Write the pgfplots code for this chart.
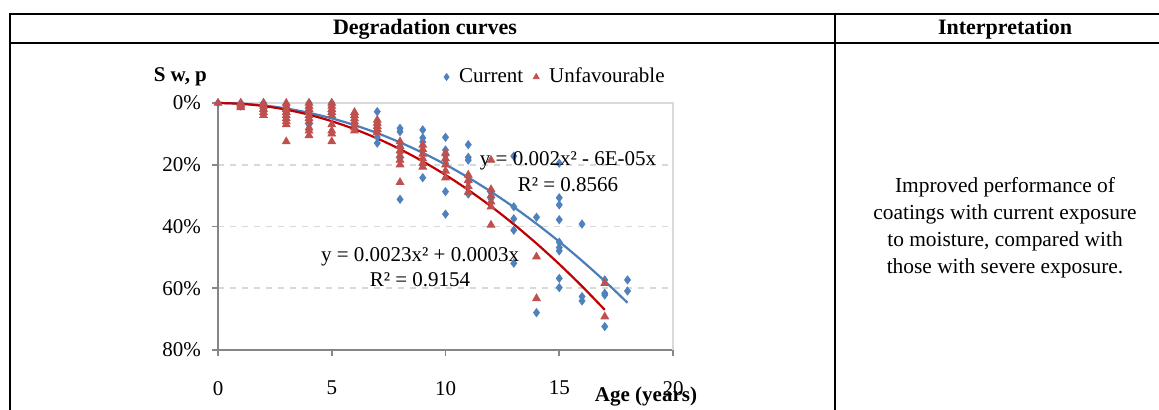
\documentclass[border=0pt]{standalone}
\usepackage{pgfplots}
\pgfplotsset{compat=1.18}
\usepackage{fontspec}
\setmainfont{Liberation Serif}
\definecolor{cblue}{HTML}{4F81BD}
\definecolor{cred}{HTML}{C0504D}
\definecolor{tblue}{HTML}{4A7EBB}
\definecolor{tred}{HTML}{C00000}
\definecolor{axgray}{HTML}{868686}
\definecolor{lgray}{HTML}{D9D9D9}

\pgfplotstableread{
x y
0 0
1 0
1 1
2 0
2 1
2 2
3 1
3 3
4 0
4 2
4 7
5 0
5 1
5 3
6 4
6 7
7 2.8
7 7
7 9
7 11
7 13
8 8.2
8 9.3
8 14
8 16
8 18
8 31.2
9 8.7
9 11.3
9 12.6
9 24.2
10 11.1
10 15.2
10 17
10 18.5
10 19.5
10 28.7
10 36
11 13.5
11 17.6
11 18.5
11 24
11 25.5
11 29.5
12 29
12 31
13 17.2
13 33.6
13 37.5
13 41.2
13 51.9
14 37
14 67.9
15 19.5
15 30.7
15 33
15 37.8
15 45.1
15 46.8
15 47.9
15 56.8
15 59.8
16 39.2
16 62.7
16 64.1
17 57.3
17 61.6
17 62.2
17 72.4
18 57.3
18 60.9
}\current

\pgfplotstableread{
x y
0 0
1 0
1 0.5
1 1
1 1.5
2 0
2 1
2 2
2 3
2 4
3 0
3 1
3 2
3 3
3 4
3 5
3 6
3 7
3 12.5
4 0
4 1
4 2
4 3
4 4
4 5
4 6
4 8
4 9
4 10.5
5 0
5 1
5 2
5 3
5 4
5 7
5 9
5 10
5 12.5
6 3
6 4
6 5
6 6
6 7
6 8
6 9
7 5.5
7 6.5
7 7.5
7 8.5
7 9.5
8 12.5
8 14
8 15.5
8 17
8 18.5
8 20
8 25.7
9 13.6
9 15
9 16.5
9 18
9 19.5
9 20.7
10 16.2
10 18
10 20
10 22
10 24.2
11 23.3
11 25
11 27
11 28.8
12 18.5
12 28
12 30
12 32
12 33.6
12 39.5
14 49.8
14 63.3
17 58.4
17 69.2
}\unfav

\pgfplotstableread{
x y
0 0
1 0.194
2 0.788
3 1.782
4 3.176
5 4.97
6 7.164
7 9.758
8 12.752
9 16.146
10 19.94
11 24.134
12 28.728
13 33.722
14 39.116
15 44.91
16 51.104
17 57.698
18 64.692
}\trendcur

\pgfplotstableread{
x y
0 0
1 0.26
2 0.98
3 2.16
4 3.8
5 5.9
6 8.46
7 11.48
8 14.96
9 18.9
10 23.3
11 28.16
12 33.48
13 39.26
14 45.5
15 52.2
16 59.36
17 66.98
}\trendunf

\begin{document}
\begin{tikzpicture}[x=0.5pt,y=-0.5pt]
\useasboundingbox (0,0) rectangle (1159,410);
% table
\draw[line width=1pt] (10,410) -- (10,14) -- (1159,14);
\draw[line width=1pt] (10,43.5) -- (1159,43.5);
\draw[line width=1pt] (835,14) -- (835,410);
\node[font=\fontsize{11}{13}\selectfont\bfseries] at (425,29) {Degradation curves};
\node[font=\fontsize{11}{13}\selectfont\bfseries] at (1005,29) {Interpretation};
\node[font=\fontsize{10.7}{13.5}\selectfont, align=center] at (1005,228)
  {Improved performance of\\coatings with current exposure\\to moisture, compared with\\those with severe exposure.};

\begin{axis}[
  at={(109pt,-175pt)}, anchor=south west,
  width=227.5pt, height=123.5pt, scale only axis,
  xmin=0, xmax=20, ymin=0, ymax=80, y dir=reverse,
  xtick={0,5,10,15,20}, ytick={0,20,40,60,80},
  yticklabel={\pgfmathprintnumber{\tick}\%},
  axis lines=left, axis line style={-, axgray, line width=1pt},
  tick align=outside, major tick length=3pt,
  tick style={axgray, line width=0.8pt},
  ymajorgrids, grid style={lgray, dashed, line width=0.8pt},
  /pgf/number format/assume math mode=true,
  tick label style={font=\fontsize{10.5}{12}\selectfont},
  xticklabel style={yshift=-9pt},
  yticklabel style={xshift=-2pt},
  legend style={at={(1,1)}, anchor=east, yshift=13pt, xshift=1pt,
    draw=none, fill=none, font=\fontsize{10.5}{12}\selectfont,
    /tikz/every odd column/.append style={column sep=3pt},
    /tikz/every even column/.append style={column sep=3pt}},
  legend columns=2,
  legend image code/.code={\draw[#1, mark size=1.7pt] plot coordinates {(0pt,0pt)};},
  clip=false,
]
\draw[lgray, line width=1pt] (axis cs:0,0) -- (axis cs:20,0) -- (axis cs:20,80);
\addplot[only marks, mark=diamond*, mark size=2pt, color=cblue] table {\current};
\addlegendentry{Current}
\addplot[only marks, mark=triangle*, mark size=2.2pt, color=cred] table {\unfav};
\addlegendentry{Unfavourable}
\addplot[tblue, line width=1.1pt, smooth, no markers, forget plot] table {\trendcur};
\addplot[tred, line width=1.1pt, smooth, no markers, forget plot] table {\trendunf};
\end{axis}

\node[font=\fontsize{10.5}{12}\selectfont] at (568,161) {y = 0.002x² - 6E-05x};
\node[font=\fontsize{10.5}{12}\selectfont] at (568,185) {R² = 0.8566};
\node[font=\fontsize{10.5}{12}\selectfont] at (420,257) {y = 0.0023x² + 0.0003x};
\node[font=\fontsize{10.5}{12}\selectfont] at (420,280) {R² = 0.9154};
\node[font=\fontsize{10.5}{12}\selectfont\bfseries, anchor=east] at (214,77) {S w, p};
\node[font=\fontsize{10.5}{12}\selectfont\bfseries] at (646,397) {Age (years)};
\end{tikzpicture}
\end{document}
